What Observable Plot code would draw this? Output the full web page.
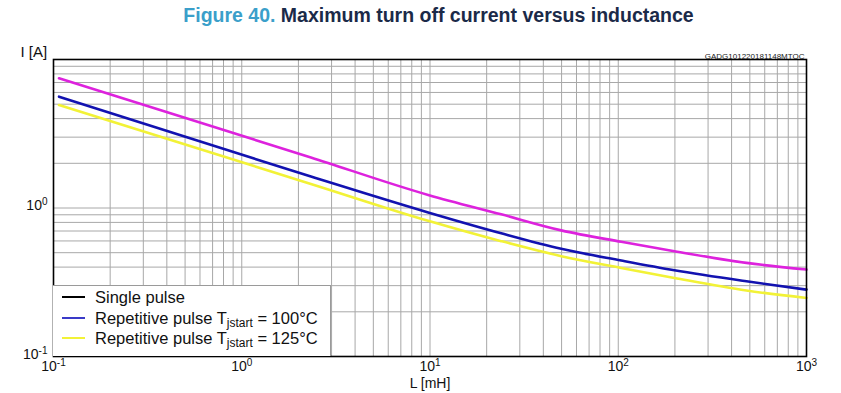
<!DOCTYPE html>
<html><head><meta charset="utf-8">
<script src="https://cdn.jsdelivr.net/npm/d3@7"></script>
<script src="https://cdn.jsdelivr.net/npm/@observablehq/plot@0.6"></script>
<style>
body{margin:0;background:#fff;font-family:"Liberation Sans",Arial,sans-serif;}
#wrap{position:relative;width:841px;height:393px;overflow:hidden;}
#title{height:30px;line-height:30px;text-align:center;font-weight:bold;font-size:19.5px;white-space:nowrap;padding-left:36px;box-sizing:border-box;}
#title .fig{color:#3b9fca;}
#title .txt{color:#1b2a48;}
#chart svg{display:block;}
#legend{position:absolute;left:53px;top:285px;width:278px;height:71px;box-sizing:border-box;background:#fff;border:1px solid #9a9a9a;border-left:none;border-bottom:none;font-size:16.5px;color:#111;}
.row{position:absolute;left:0;height:20px;line-height:20px;white-space:nowrap;}
.sw{position:absolute;left:9px;top:9px;width:23px;height:2px;}
.lab{position:absolute;left:42px;top:0;}
.lab sub{font-size:12px;vertical-align:-3px;line-height:0;}
</style></head>
<body>
<div id="wrap">
  <div id="title"><span class="fig">Figure 40.</span> <span class="txt">Maximum turn off current versus inductance</span></div>
  <div id="chart"></div>
  <div id="legend"></div>
</div>
<script>
// Inductance L [mH] sample points
const inductance = [0.107, 2.33, 9.88, 23.9, 49.8, 103.7, 198.6, 479.6, 1000];
// Current I [A] for each curve
const singlePulse = [7.48, 2.19, 1.22, 0.906, 0.707, 0.592, 0.512, 0.427, 0.385];
const rep100 = [5.62, 1.628, 0.929, 0.675, 0.531, 0.443, 0.381, 0.321, 0.282];
const rep125 = [4.94, 1.453, 0.817, 0.598, 0.474, 0.395, 0.338, 0.278, 0.248];
const seriesNames = ["Single pulse", "Repetitive pulse Tjstart = 100°C", "Repetitive pulse Tjstart = 125°C"];
const xTickValues = [0.1, 1, 10, 100, 1000];
const yTickValues = [0.1, 1];
const xTickExponents = ["-1", "0", "1", "2", "3"];
const yTickExponents = ["-1", "0"];

const curveColors = ["#dd22dd", "#1212b0", "#f2f236"];
const legendColors = ["#000000", "#3a3ac8", "#f2f236"];

const seriesValues = [singlePulse, rep100, rep125];
const table = [];
seriesValues.forEach((vals, s) => vals.forEach((v, i) => table.push({L: inductance[i], I: v, series: seriesNames[s]})));

const xGrid = d3.scaleLog().domain([0.1, 1000]).ticks();
const yGrid = d3.scaleLog().domain([0.1, 10]).ticks();

const chart = Plot.plot({
  width: 841, height: 363,
  marginLeft: 53, marginRight: 35, marginTop: 29, marginBottom: 37,
  x: {type: "log", domain: [0.1, 1000]},
  y: {type: "log", domain: [0.1, 10]},
  color: {domain: seriesNames, range: curveColors},
  style: {fontFamily: "'Liberation Sans', Arial, sans-serif", background: "white", color: "#111"},
  marks: [
    Plot.gridX(xGrid, {stroke: "#a8a8a8", strokeOpacity: 1, strokeWidth: 1}),
    Plot.gridY(yGrid, {stroke: "#a8a8a8", strokeOpacity: 1, strokeWidth: 1}),
    Plot.line(table, {x: "L", y: "I", z: "series", stroke: "series", strokeWidth: 2.6, curve: "monotone-x"}),
    Plot.frame({stroke: "#000", strokeWidth: 1.6}),
    Plot.axisX(xTickValues, {tickSize: 0, tickPadding: 5, fontSize: 14, label: null,
      tickFormat: (d) => "10^" + xTickExponents[xTickValues.indexOf(d)]}),
    Plot.axisY(yTickValues, {tickSize: 0, tickPadding: 6, fontSize: 14, label: null, dy: -2,
      tickFormat: (d) => "10^" + yTickExponents[yTickValues.indexOf(d)]}),
    Plot.text(["L [mH]"], {frameAnchor: "bottom", dy: 31, fontSize: 14, fill: "#111"}),
    Plot.text(["I [A]"], {frameAnchor: "top-left", dx: -33, dy: -13, fontSize: 15, textAnchor: "start", fill: "#111"}),
    Plot.text(["GADG101220181148MTOC"], {frameAnchor: "top-right", dx: -2, dy: -6, fontSize: 8, textAnchor: "end", fill: "#222"})
  ]
});
document.getElementById("chart").appendChild(chart);

// turn "10^n" tick labels into 10 with a raised exponent
chart.querySelectorAll("text").forEach((t) => {
  const m = /^10\^(-?\d+)$/.exec(t.textContent);
  if (!m) return;
  t.textContent = "";
  const base = document.createElementNS("http://www.w3.org/2000/svg", "tspan");
  base.textContent = "10";
  const sup = document.createElementNS("http://www.w3.org/2000/svg", "tspan");
  sup.textContent = m[1];
  sup.setAttribute("font-size", "10");
  sup.setAttribute("dy", "-5");
  t.appendChild(base); t.appendChild(sup);
});

const legend = document.getElementById("legend");
seriesNames.forEach((name, i) => {
  const row = document.createElement("div");
  row.className = "row";
  row.style.top = (1 + i * 20.5) + "px";
  const sw = document.createElement("div");
  sw.className = "sw";
  sw.style.background = legendColors[i];
  const lab = document.createElement("div");
  lab.className = "lab";
  lab.innerHTML = name.replace("Tjstart", "T<sub>jstart</sub>");
  row.appendChild(sw); row.appendChild(lab);
  legend.appendChild(row);
});
</script>
</body></html>
